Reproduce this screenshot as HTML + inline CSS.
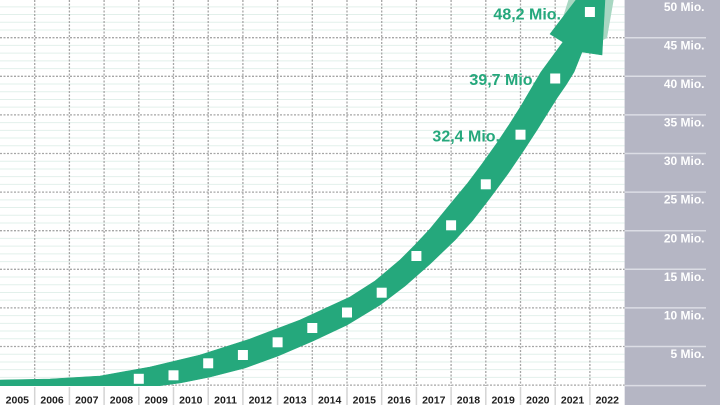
<!DOCTYPE html>
<html>
<head>
<meta charset="utf-8">
<style>
html,body{margin:0;padding:0;background:#fff;}
svg{display:block;}
text{font-family:"Liberation Sans",Arial,sans-serif;font-weight:bold;}
</style>
</head>
<body>
<svg width="720" height="405" viewBox="0 0 720 405" xmlns="http://www.w3.org/2000/svg">
<defs>
<clipPath id="plot"><rect x="0" y="0" width="624.6" height="386"/></clipPath>
</defs>
<rect x="0" y="0" width="720" height="405" fill="#ffffff"/>
<rect x="624.6" y="0" width="95.4" height="405" fill="#b5b6c4"/>

<g clip-path="url(#plot)">
<path stroke="#e2f0eb" stroke-width="1" fill="none" d="
M0 377.38H624.6 M0 369.66H624.6 M0 361.94H624.6 M0 354.22H624.6
M0 338.78H624.6 M0 331.06H624.6 M0 323.34H624.6 M0 315.62H624.6
M0 300.18H624.6 M0 292.46H624.6 M0 284.74H624.6 M0 277.02H624.6
M0 261.58H624.6 M0 253.86H624.6 M0 246.14H624.6 M0 238.42H624.6
M0 222.98H624.6 M0 215.26H624.6 M0 207.54H624.6 M0 199.82H624.6
M0 184.38H624.6 M0 176.66H624.6 M0 168.94H624.6 M0 161.22H624.6
M0 145.78H624.6 M0 138.06H624.6 M0 130.34H624.6 M0 122.62H624.6
M0 107.18H624.6 M0 99.46H624.6 M0 91.74H624.6 M0 84.02H624.6
M0 68.58H624.6 M0 60.86H624.6 M0 53.14H624.6 M0 45.42H624.6
M0 29.98H624.6 M0 22.26H624.6 M0 14.54H624.6 M0 6.82H624.6"/>
<path stroke="#a6a6a6" stroke-width="1.3" stroke-dasharray="2 1.5" fill="none" d="
M0 385.1H624.6 M0 346.5H624.6 M0 307.9H624.6 M0 269.3H624.6 M0 230.7H624.6
M0 192.1H624.6 M0 153.5H624.6 M0 114.9H624.6 M0 76.3H624.6 M0 37.7H624.6"/>
<path stroke="#a6a6a6" stroke-width="1.3" stroke-dasharray="2 1.5" fill="none" d="
M34.7 0V386 M69.4 0V386 M104.1 0V386 M138.8 0V386 M173.5 0V386 M208.2 0V386
M242.9 0V386 M277.6 0V386 M312.3 0V386 M347 0V386 M381.7 0V386 M416.4 0V386
M451.1 0V386 M485.8 0V386 M520.5 0V386 M555.2 0V386 M589.9 0V386"/>

<polygon fill="#a8d7c2" points="563,17 569,-2 614,-2 607,38 603,40"/>
<polygon fill="#25a87c" stroke="#25a87c" stroke-width="0.6" stroke-linejoin="round" points="
-5,380.2 0,380 50,379 100,376 150,367 200,355 250,339 300,320 350,297 375,281 400,260 415,245 430,229 448,207 467,184 482,164 497,143 509,125 521,106 531,89 541,72 552,57 563,42
550,34 576,0 590,-20 606,-20 602,55 582,52
578,62 574,72 566,85 557,98 547,114 537,130 524,150 507,175 490,198 473,220 455,240 430,264 405,286 380,305 347,325 313,341 278,356 245,368 210,377 180,383 150,387 100,390 0,392 -5,392"/>

<g fill="#ffffff">
<rect x="133.8" y="373.8" width="10" height="10"/>
<rect x="168.5" y="370.3" width="10" height="10"/>
<rect x="203.2" y="358.3" width="10" height="10"/>
<rect x="237.9" y="350" width="10" height="10"/>
<rect x="272.6" y="337.3" width="10" height="10"/>
<rect x="307.3" y="323" width="10" height="10"/>
<rect x="342" y="307.5" width="10" height="10"/>
<rect x="376.7" y="287.7" width="10" height="10"/>
<rect x="411.4" y="251" width="10" height="10"/>
<rect x="446.1" y="220.3" width="10" height="10"/>
<rect x="480.8" y="179.3" width="10" height="10"/>
<rect x="515.5" y="129.7" width="10" height="10"/>
<rect x="550.2" y="73.5" width="10" height="10"/>
<rect x="584.9" y="7" width="10" height="10"/>
</g>
</g>

<g fill="#25a87c" font-size="16" text-anchor="end">
<text x="561" y="19.6">48,2 Mio.</text>
<text x="537" y="85.2">39,7 Mio.</text>
<text x="500" y="141.6">32,4 Mio.</text>
</g>

<path stroke="#dcdde5" stroke-width="1.5" fill="none" d="
M624.6 385.6H706 M624.6 346.5H706 M624.6 307.9H706 M624.6 269.3H706 M624.6 230.7H706
M624.6 192.1H706 M624.6 153.5H706 M624.6 114.9H706 M624.6 76.3H706 M624.6 37.7H706"/>
<g fill="#ffffff" font-size="12" text-anchor="end">
<text x="704.5" y="10.8">50 Mio.</text>
<text x="704.5" y="49.3">45 Mio.</text>
<text x="704.5" y="87.9">40 Mio.</text>
<text x="704.5" y="126.5">35 Mio.</text>
<text x="704.5" y="165.1">30 Mio.</text>
<text x="704.5" y="203.7">25 Mio.</text>
<text x="704.5" y="242.3">20 Mio.</text>
<text x="704.5" y="280.9">15 Mio.</text>
<text x="704.5" y="319.5">10 Mio.</text>
<text x="704.5" y="358.1">5 Mio.</text>
</g>

<rect x="0" y="386.3" width="624.6" height="18.7" fill="#ffffff"/>
<path stroke="#d4d4d4" stroke-width="1.5" fill="none" d="
M34.7 387V405 M69.4 387V405 M104.1 387V405 M138.8 387V405 M173.5 387V405 M208.2 387V405
M242.9 387V405 M277.6 387V405 M312.3 387V405 M347 387V405 M381.7 387V405 M416.4 387V405
M451.1 387V405 M485.8 387V405 M520.5 387V405 M555.2 387V405 M589.9 387V405"/>
<g fill="#1e1e1e" font-size="10.5" text-anchor="middle">
<text x="17.35" y="403.5">2005</text>
<text x="52.05" y="403.5">2006</text>
<text x="86.75" y="403.5">2007</text>
<text x="121.45" y="403.5">2008</text>
<text x="156.15" y="403.5">2009</text>
<text x="190.85" y="403.5">2010</text>
<text x="225.55" y="403.5">2011</text>
<text x="260.25" y="403.5">2012</text>
<text x="294.95" y="403.5">2013</text>
<text x="329.65" y="403.5">2014</text>
<text x="364.35" y="403.5">2015</text>
<text x="399.05" y="403.5">2016</text>
<text x="433.75" y="403.5">2017</text>
<text x="468.45" y="403.5">2018</text>
<text x="503.15" y="403.5">2019</text>
<text x="537.85" y="403.5">2020</text>
<text x="572.55" y="403.5">2021</text>
<text x="607.25" y="403.5">2022</text>
</g>
</svg>
</body>
</html>
